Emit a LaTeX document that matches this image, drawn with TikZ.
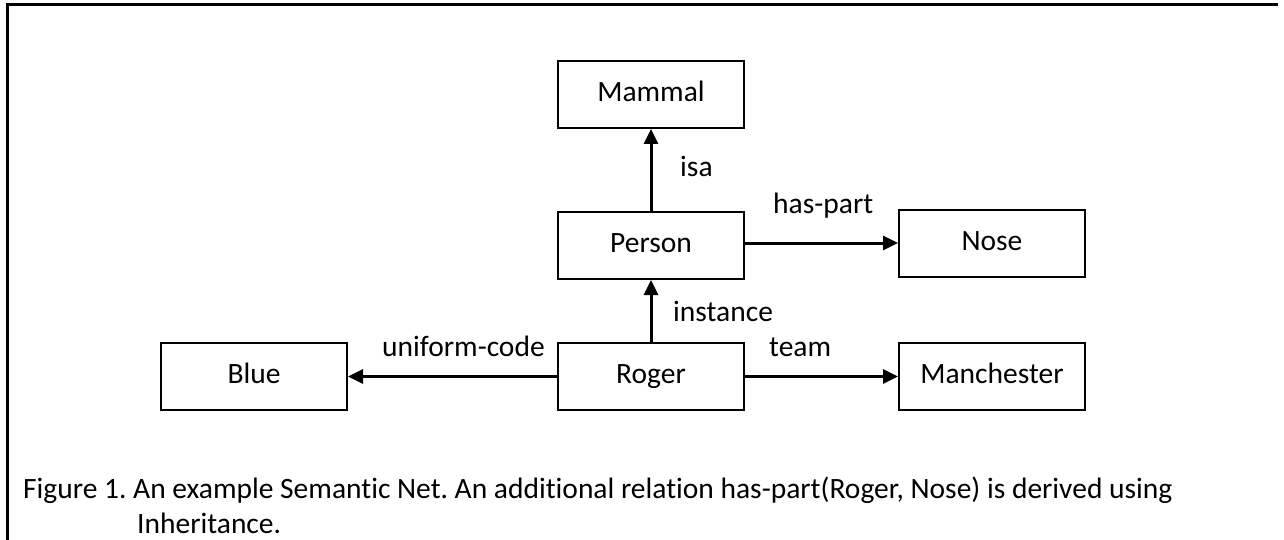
\documentclass[tikz,border=0pt]{standalone}
\usepackage{fontspec}
\setmainfont{Carlito}[Ligatures=NoCommon]
\usetikzlibrary{arrows.meta}
\begin{document}
\frenchspacing
\begin{tikzpicture}[x=1pt,y=-1pt,
  font=\fontsize{29.5}{36}\selectfont,
  concept/.style={draw, line width=2pt, minimum width=186pt, minimum height=67pt,
    inner sep=0pt, text height=21pt, text depth=7pt},
  rel/.style={line width=3pt, -{Triangle[length=15pt,width=14pt]}},
  lbl/.style={anchor=base west, inner sep=0pt}]
  \useasboundingbox (0,0) rectangle (1284,540);

  % frame
  \draw[line width=3pt] (7,540) -- (7,5) -- (1278,5);

  % concepts
  \node[concept] (mammal) at (651,94.5) {Mammal};
  \node[concept] (person) at (651,245.5) {Person};
  \node[concept] (nose) at (992,243) {Nose};
  \node[concept] (blue) at (254,376.5) {Blue};
  \node[concept] (roger) at (651,376.5) {Roger};
  \node[concept] (manchester) at (992,376.5) {Manchester};

  % relations
  \draw[rel] (person) -- (mammal);
  \draw[rel] (person.east |- nose.west) -- (nose.west);
  \draw[rel] (roger) -- (person);
  \draw[rel] (roger) -- (blue);
  \draw[rel] (roger.east) -- (manchester.west);

  % relation labels
  \node[lbl] (lisa) at (680,177) {isa};
  \node[lbl] (lhaspart) at (773,213) {has-part};
  \node[lbl] (linstance) at (673,321) {instance};
  \node[lbl] (luniform) at (382,356) {uniform-code};
  \node[lbl] (lteam) at (769,356) {team};

  % caption
  \node[lbl] (cap1) at (23,498) {Figure 1. An example Semantic Net. An additional relation has-part(Roger, Nose) is derived using};
  \node[lbl] (cap2) at (137,533) {Inheritance.};
\end{tikzpicture}
\end{document}
